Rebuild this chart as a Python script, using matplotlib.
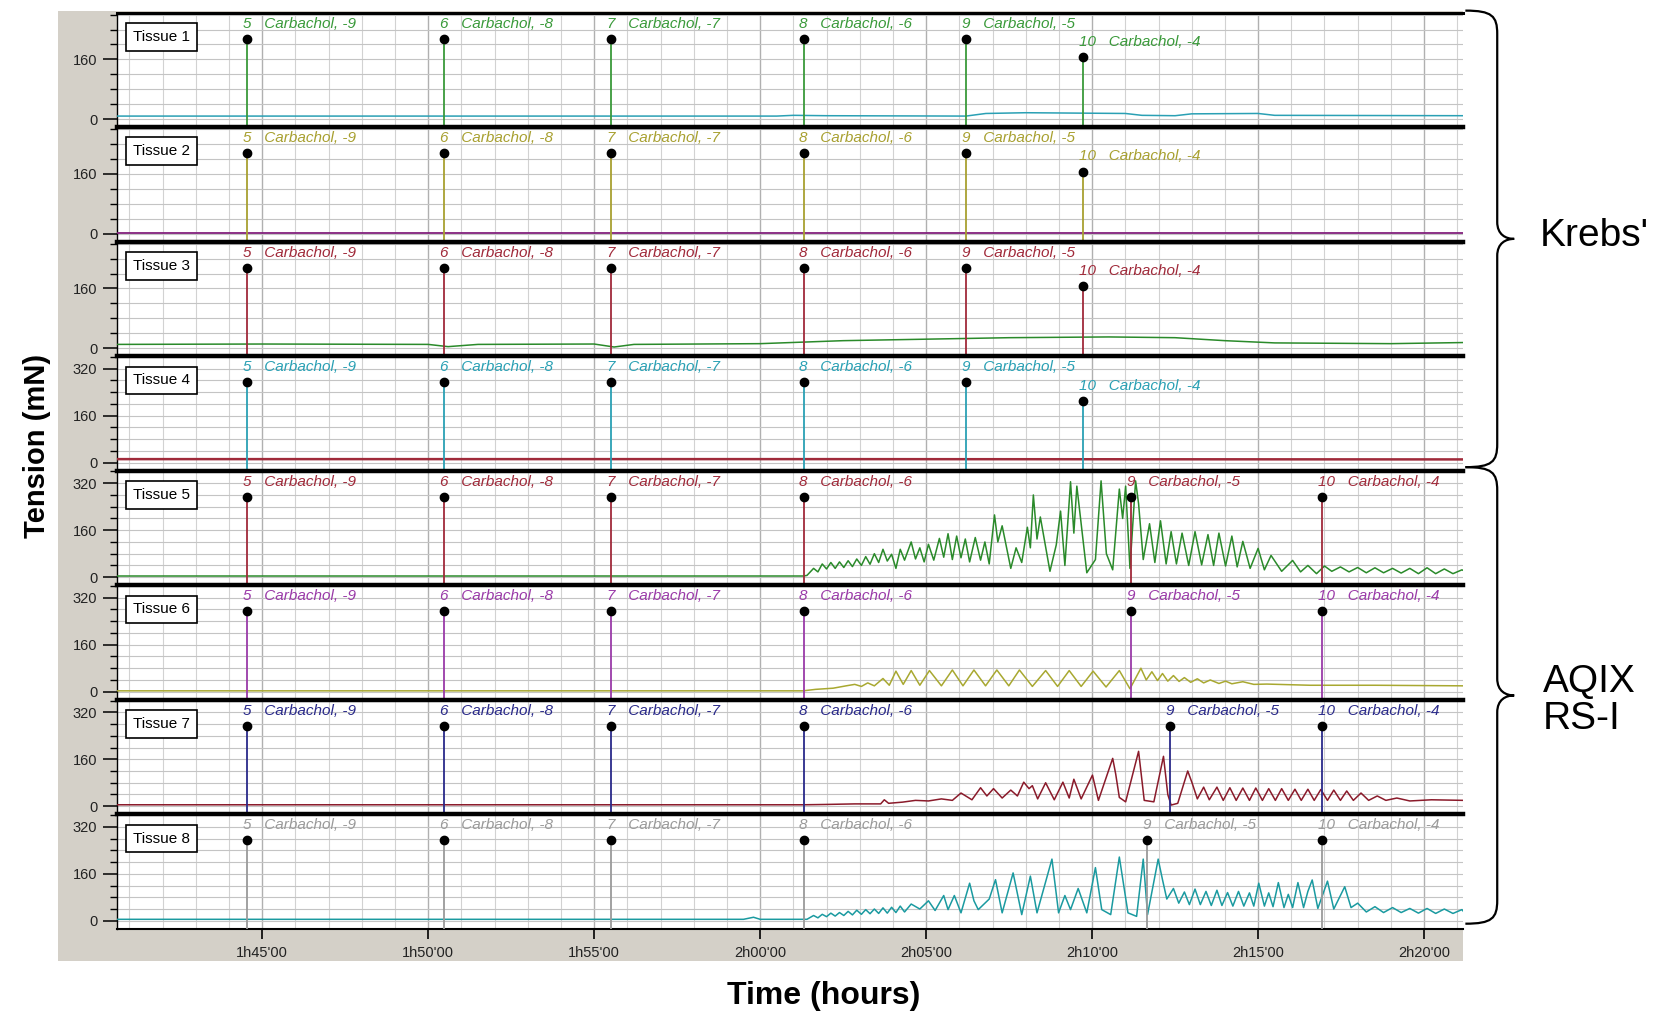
import matplotlib
matplotlib.use("Agg")
import matplotlib.pyplot as plt
from matplotlib.patches import Rectangle, PathPatch
from matplotlib.path import Path
from matplotlib.ticker import MultipleLocator, FixedLocator

plt.rcParams['font.family'] = ['Liberation Sans', 'DejaVu Sans']

# ---------------- data ----------------
tissue_names = ["Tissue 1", "Tissue 2", "Tissue 3", "Tissue 4",
                "Tissue 5", "Tissue 6", "Tissue 7", "Tissue 8"]
dose_numbers = [5, 6, 7, 8, 9, 10]
dose_logs = [-9, -8, -7, -6, -5, -4]
# event times in minutes
dose_times_krebs = [104.55, 110.47, 115.52, 121.31, 126.21, 129.73]
dose_times_t5 = [104.55, 110.47, 115.52, 121.31, 131.17, 136.93]
dose_times_t6 = [104.55, 110.47, 115.52, 121.31, 131.17, 136.93]
dose_times_t7 = [104.55, 110.47, 115.52, 121.31, 132.35, 136.93]
dose_times_t8 = [104.55, 110.47, 115.52, 121.31, 131.65, 136.93]

xtick_minutes = [105, 110, 115, 120, 125, 130, 135, 140]
xtick_labels = ["1h45'00", "1h50'00", "1h55'00", "2h00'00",
                "2h05'00", "2h10'00", "2h15'00", "2h20'00"]

t1_time = [100.6, 120.5, 121.0, 122.0, 126.2, 126.8, 128.0, 131.0, 131.5, 132.5, 133.0, 135.0, 135.5, 141.2]
t1_val = [8, 8, 10, 9, 8, 15, 17, 15, 10, 9, 14, 15, 10, 9]

t2_time = [100.6, 141.2]
t2_val = [2, 2]

t3_time = [100.6, 105, 110, 110.6, 111.5, 115, 115.6, 116.2, 120, 122.5, 125, 127.5, 130.5, 132.5, 134, 135.5, 139, 141.2]
t3_val = [10, 11, 10, 4, 10, 11, 3, 10, 12, 20, 24, 28, 30, 28, 20, 14, 12, 15]

t4_time = [100.6, 121.5, 141.2]
t4_val = [12, 12, 11]

t5_time = [100.6, 121.3, 121.41, 121.61, 121.74, 121.87, 122.00, 122.13, 122.26, 122.39, 122.52, 122.65,
           122.78, 122.91, 123.05, 123.18, 123.31, 123.44, 123.57, 123.70, 123.83, 123.96, 124.09, 124.22,
           124.35, 124.55, 124.68, 124.81, 124.94, 125.07, 125.23, 125.40, 125.53, 125.66, 125.79, 125.92,
           126.05, 126.18, 126.31, 126.48, 126.64, 126.77, 126.90, 127.06, 127.16, 127.29, 127.55, 127.71,
           127.88, 128.05, 128.14, 128.23, 128.34, 128.44, 128.73, 128.92, 129.05, 129.18, 129.35, 129.45,
           129.54, 129.84, 130.10, 130.27, 130.43, 130.62, 130.82, 130.92, 131.01, 131.14, 131.31, 131.40,
           131.54, 131.73, 131.89, 132.06, 132.23, 132.38, 132.54, 132.71, 132.91, 133.10, 133.30, 133.49,
           133.66, 133.82, 134.02, 134.21, 134.37, 134.54, 134.76, 135.00, 135.19, 135.39, 135.71, 136.04,
           136.28, 136.50, 136.76, 137.00, 137.22, 137.48, 137.74, 138.00, 138.26, 138.52, 138.78, 139.05,
           139.31, 139.57, 139.83, 140.09, 140.35, 140.61, 140.87, 141.14, 141.2]
t5_val = [4, 4, 6, 30, 18, 45, 28, 50, 30, 52, 33, 56,
          36, 62, 40, 70, 44, 80, 50, 95, 55, 78, 30, 95,
          58, 120, 62, 100, 52, 112, 58, 132, 68, 148, 60, 140,
          66, 130, 52, 135, 58, 120, 45, 212, 120, 175, 30, 100,
          50, 170, 100, 280, 130, 205, 20, 110, 225, 40, 325, 150,
          310, 15, 60, 328, 80, 25, 300, 200, 310, 30, 328, 250,
          60, 182, 50, 192, 45, 155, 45, 150, 40, 155, 42, 145,
          40, 150, 38, 140, 35, 122, 30, 98, 25, 74, 20, 57,
          18, 40, 12, 38, 20, 35, 18, 33, 15, 32, 15, 30,
          14, 30, 12, 32, 12, 28, 12, 25, 22]

t6_time = [100.6, 121.3, 121.67, 122.20, 122.59, 122.85, 123.05, 123.24, 123.44, 123.70, 123.89, 124.09,
           124.31, 124.55, 124.81, 125.10, 125.46, 125.79, 126.11, 126.44, 126.79, 127.13, 127.49, 127.81,
           128.20, 128.60, 128.96, 129.31, 129.67, 130.03, 130.42, 130.82, 131.14, 131.47, 131.63, 131.80,
           131.97, 132.12, 132.28, 132.45, 132.62, 132.78, 132.97, 133.17, 133.36, 133.56, 133.82, 134.02,
           134.21, 134.54, 134.87, 135.26, 136.56, 138.52, 141.2]
t6_val = [3, 3, 8, 12, 20, 25, 18, 30, 20, 45, 22, 70,
          25, 72, 22, 72, 20, 74, 20, 74, 20, 74, 20, 74,
          18, 72, 18, 72, 18, 70, 16, 72, 10, 80, 40, 68,
          38, 62, 36, 55, 35, 48, 32, 44, 30, 40, 28, 36,
          27, 34, 25, 26, 22, 22, 20]

t7_time = [100.6, 121.3, 121.93, 122.85, 123.63, 123.74, 123.87, 124.29, 124.68, 125.07, 125.46, 125.79,
           126.05, 126.38, 126.64, 126.83, 127.03, 127.29, 127.55, 127.75, 127.94, 128.10, 128.20, 128.36,
           128.60, 128.86, 129.12, 129.31, 129.45, 129.67, 130.01, 130.19, 130.62, 130.71, 130.82, 131.01,
           131.40, 131.57, 131.86, 132.15, 132.28, 132.38, 132.58, 132.88, 133.01, 133.17, 133.36, 133.53,
           133.76, 133.95, 134.15, 134.34, 134.54, 134.74, 134.93, 135.13, 135.32, 135.52, 135.71, 135.91,
           136.11, 136.30, 136.50, 136.69, 136.89, 137.09, 137.28, 137.48, 137.67, 137.87, 138.10, 138.33,
           138.59, 138.85, 139.18, 139.57, 140.22, 141.2]
t7_val = [5, 5, 6, 8, 8, 22, 10, 14, 20, 18, 25, 20,
          45, 22, 63, 35, 60, 28, 55, 35, 82, 60, 70, 25,
          80, 22, 82, 28, 92, 25, 106, 20, 163, 110, 30, 15,
          187, 20, 15, 170, 40, 4, 10, 120, 80, 25, 65, 22,
          65, 20, 63, 20, 62, 20, 62, 20, 60, 20, 60, 20,
          58, 20, 58, 20, 57, 20, 55, 20, 52, 20, 45, 20,
          35, 20, 28, 18, 22, 20]

t8_time = [100.6, 119.5, 119.8, 120.0, 121.3, 121.41, 121.61, 121.74, 121.87, 122.00, 122.13, 122.26,
           122.39, 122.52, 122.65, 122.78, 122.91, 123.05, 123.18, 123.31, 123.44, 123.57, 123.70, 123.83,
           123.96, 124.09, 124.22, 124.35, 124.55, 124.81, 125.07, 125.27, 125.53, 125.66, 125.85, 126.05,
           126.31, 126.44, 126.57, 126.90, 127.09, 127.29, 127.62, 127.88, 128.14, 128.34, 128.79, 128.99,
           129.18, 129.35, 129.58, 129.84, 130.10, 130.29, 130.56, 130.82, 131.08, 131.34, 131.54, 131.67,
           131.99, 132.12, 132.25, 132.45, 132.61, 132.78, 132.93, 133.10, 133.26, 133.43, 133.59, 133.76,
           133.91, 134.08, 134.24, 134.41, 134.57, 134.74, 134.87, 135.02, 135.19, 135.32, 135.45, 135.61,
           135.78, 135.91, 136.04, 136.20, 136.37, 136.50, 136.63, 136.80, 137.09, 137.28, 137.61, 137.80,
           138.00, 138.26, 138.52, 138.78, 139.05, 139.31, 139.57, 139.83, 140.09, 140.35, 140.61, 140.87,
           141.14, 141.2]
t8_val = [5, 5, 12, 5, 5, 5, 18, 10, 22, 14, 26, 16,
          28, 18, 32, 20, 36, 22, 38, 24, 40, 25, 44, 26,
          46, 28, 50, 30, 57, 40, 68, 35, 86, 38, 86, 27,
          128, 68, 38, 74, 140, 27, 163, 21, 152, 27, 210, 27,
          86, 38, 110, 27, 181, 38, 21, 217, 27, 15, 210, 21,
          210, 140, 74, 110, 60, 98, 55, 108, 55, 100, 52, 104,
          52, 96, 50, 100, 50, 95, 50, 128, 50, 95, 48, 130,
          45, 90, 45, 130, 45, 100, 139, 42, 135, 40, 116, 45,
          60, 30, 48, 28, 45, 28, 42, 26, 42, 25, 40, 25,
          38, 30]

# ---------------- styling ----------------
trace_times = [t1_time, t2_time, t3_time, t4_time, t5_time, t6_time, t7_time, t8_time]
trace_vals = [t1_val, t2_val, t3_val, t4_val, t5_val, t6_val, t7_val, t8_val]
dose_times = [dose_times_krebs] * 4 + [dose_times_t5, dose_times_t6, dose_times_t7, dose_times_t8]
trace_colors = ["#2aa0b4", "#82207c", "#2a8a2a", "#a02a3a",
                "#2a8a2a", "#a8a830", "#8a1a2a", "#1a9aa0"]
trace_widths = [1.1, 1.3, 1.1, 1.8, 1.1, 1.1, 1.1, 1.1]
event_colors = ["#3a9a3a", "#a8a030", "#a02a3a", "#2aa0b4",
                "#a02a3a", "#9a3aa8", "#2a2a8a", "#9a9a9a"]

W, H = 1665, 1015
fig = plt.figure(figsize=(W / 100, H / 100), dpi=100)

SW, SH = 1568.0, 956.0  # layout reference grid


def fx(x):
    return x / SW


def fy(y):
    return 1 - y / SH


# gray instrument background
fig.add_artist(Rectangle((fx(55), fy(905)), fx(1378) - fx(55), fy(10) - fy(905),
                         transform=fig.transFigure, facecolor="#d4d0c8",
                         edgecolor="none", zorder=-5))

left, right = fx(110), fx(1378)
top_px, bot_px = 12.0, 875.0
ph = (bot_px - top_px) / 8.0

axes = []
for i in range(8):
    y_top = top_px + i * ph
    ax = fig.add_axes([left, fy(y_top + ph), right - left, ph / SH])
    axes.append(ax)
    ax.set_facecolor("white")
    ax.set_xlim(100.62, 141.18)
    if i < 3:
        ax.set_ylim(-22, 285)
        ax.yaxis.set_major_locator(FixedLocator([0, 160]))
    else:
        ax.set_ylim(-28, 362)
        ax.yaxis.set_major_locator(FixedLocator([0, 160, 320]))
    ax.yaxis.set_minor_locator(MultipleLocator(40))
    ax.xaxis.set_major_locator(FixedLocator(xtick_minutes))
    ax.xaxis.set_minor_locator(MultipleLocator(1))
    ax.grid(which="minor", axis="x", color="#d2d2d2", lw=0.8, zorder=0)
    ax.grid(which="major", axis="x", color="#b0b0b0", lw=1.0, zorder=0)
    ax.grid(which="minor", axis="y", color="#c4c4c4", lw=0.8, zorder=0)
    ax.grid(which="major", axis="y", color="#c4c4c4", lw=0.8, zorder=0)
    ax.set_axisbelow(True)
    ax.tick_params(axis="y", which="major", length=10, width=1.1, labelsize=10.5,
                   labelcolor="#222222", pad=4)
    ax.tick_params(axis="y", which="minor", length=5, width=1.0)
    if i < 7:
        ax.tick_params(axis="x", which="both", length=0, labelbottom=False)
        ax.spines["bottom"].set_visible(False)
    else:
        ax.set_xticklabels(xtick_labels)
        ax.tick_params(axis="x", which="major", length=7, width=1.2, labelsize=10.5,
                       labelcolor="#222222", pad=5)
        ax.tick_params(axis="x", which="minor", length=0)
        ax.spines["bottom"].set_linewidth(1.5)
    ax.spines["right"].set_visible(False)
    ax.spines["left"].set_linewidth(1.0)
    ax.spines["top"].set_linewidth(3.2 if i > 0 else 2.2)
    ax.spines["top"].set_zorder(10)

    # trace
    ax.plot(trace_times[i], trace_vals[i], color=trace_colors[i], lw=trace_widths[i], zorder=3)

    # dose events
    xform = ax.get_xaxis_transform()
    for k, (t, n, c) in enumerate(zip(dose_times[i], dose_numbers, dose_logs)):
        stagger = (i < 4 and n == 10)
        dot_y = 0.61 if stagger else 0.775
        lab_y = 0.745 if stagger else 0.905
        ax.plot([t, t], [0, dot_y], transform=xform, color=event_colors[i], lw=1.3, zorder=4)
        ax.plot([t], [dot_y], "o", transform=xform, color="black", ms=6, zorder=5)
        ax.annotate(f"{n}   Carbachol, {c}", (t, lab_y), xycoords=xform,
                    xytext=(-3, 0), textcoords="offset points", ha="left", va="center",
                    fontsize=11, style="italic", color=event_colors[i], zorder=6)

    ax.text(0.012, 0.79, tissue_names[i], transform=ax.transAxes, fontsize=11,
            va="center", ha="left", zorder=7,
            bbox=dict(boxstyle="square,pad=0.45", fc="white", ec="black", lw=1.2))

# axis titles
fig.text(fx(35), fy(420), "Tension (mN)", rotation=90, ha="center", va="center",
         fontsize=21, fontweight="bold")
fig.text(fx(776), fy(938), "Time (hours)", ha="center", va="center",
         fontsize=23, fontweight="bold")


# curly braces
def brace(y0, y1, x0=1380, xm=1410, xt=1426):
    ym = (y0 + y1) / 2
    pts = [(x0, y0), (x0 + 25, y0), (xm, y0 + 5), (xm, y0 + 22),
           (xm, ym - 16),
           (xm, ym - 4), (xm + 8, ym), (xt, ym),
           (xm + 8, ym), (xm, ym + 4), (xm, ym + 16),
           (xm, y1 - 22),
           (xm, y1 - 5), (x0 + 25, y1), (x0, y1)]
    codes = [Path.MOVETO, Path.CURVE4, Path.CURVE4, Path.CURVE4,
             Path.LINETO,
             Path.CURVE4, Path.CURVE4, Path.CURVE4,
             Path.CURVE4, Path.CURVE4, Path.CURVE4,
             Path.LINETO,
             Path.CURVE4, Path.CURVE4, Path.CURVE4]
    verts = [(fx(x), fy(y)) for x, y in pts]
    fig.add_artist(PathPatch(Path(verts, codes), transform=fig.transFigure,
                             fill=False, lw=1.6, edgecolor="black"))


brace(10, 440)
brace(440, 870)

fig.text(fx(1450), fy(222), "Krebs'", ha="left", va="center", fontsize=28)
fig.text(fx(1453), fy(660), "AQIX\nRS-I", ha="left", va="center", fontsize=28,
         linespacing=1.05)

fig.savefig("out.png", dpi=100)
